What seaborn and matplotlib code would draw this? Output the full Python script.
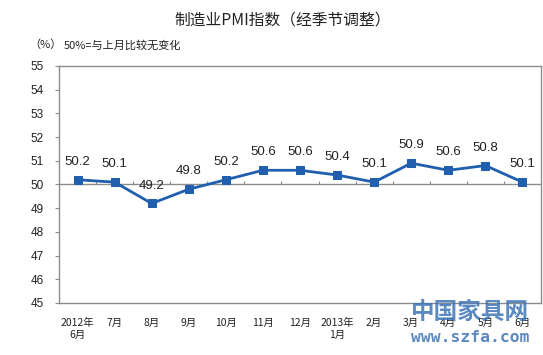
import numpy as np
import pandas as pd
import matplotlib
matplotlib.use("Agg")
import matplotlib.pyplot as plt
import seaborn as sns

# ---- data ----
months = ["2012年\n6月", "7月", "8月", "9月", "10月", "11月", "12月",
          "2013年\n1月", "2月", "3月", "4月", "5月", "6月"]
pmi = [50.2, 50.1, 49.2, 49.8, 50.2, 50.6, 50.6, 50.4, 50.1, 50.9, 50.6, 50.8, 50.1]
y_ticks = [45, 46, 47, 48, 49, 50, 51, 52, 53, 54, 55]

title = "制造业PMI指数（经季节调整）"
unit_label = "（%）"
note_label = "50%=与上月比较无变化"

sns.set_theme(style="white")
plt.rcParams['font.family'] = ['Noto Sans CJK SC', 'DejaVu Sans']

df = pd.DataFrame({"idx": np.arange(len(months)), "pmi": pmi})

W, H = 543, 355
fig = plt.figure(figsize=(W / 100, H / 100), dpi=100)
fig.patch.set_facecolor("white")
left, right, top, bottom = 59, 541, 66, 303
ax = fig.add_axes([left / W, 1 - bottom / H, (right - left) / W, (bottom - top) / H])

line_color = "#1F5FAD"
sns.lineplot(data=df, x="idx", y="pmi", ax=ax, color=line_color, linewidth=2,
             marker="s", markersize=5.5, markeredgecolor=line_color,
             markerfacecolor=line_color)

ax.set_xlim(-0.5, len(months) - 0.5)
ax.set_ylim(min(y_ticks), max(y_ticks))
ax.set_xlabel("")
ax.set_ylabel("")

# frame
for s in ax.spines.values():
    s.set_color("#8C8C8C")
    s.set_linewidth(1)

# y ticks
ax.set_yticks(y_ticks)
ax.set_yticklabels([str(v) for v in y_ticks], fontsize=8.5,
                   family=['Liberation Sans Narrow', 'Liberation Sans'], color="#222222")
ax.tick_params(axis="y", direction="out", length=3, width=0.8, color="#8C8C8C", pad=8, left=True)

# x category labels at bottom
ax.set_xticks(df["idx"])
ax.set_xticklabels(months, fontsize=7.5, color="#222222", linespacing=1.25)
ax.tick_params(axis="x", length=0, pad=11)

# horizontal axis crossing at 50 with upward ticks between categories
ax.axhline(50, color="#8C8C8C", linewidth=1, zorder=1)
bounds = np.arange(len(months) - 1) + 0.5
ax.vlines(bounds, 50, 50 + 0.14, color="#8C8C8C", linewidth=0.8, zorder=1)

# data labels
for i, v in enumerate(pmi):
    ax.annotate(f"{v:.1f}", (i, v), xytext=(0, 8.5), textcoords="offset points",
                ha="center", va="bottom", fontsize=9.5,
                family=['Liberation Sans', 'DejaVu Sans'], color="#222222")

# titles and notes
fig.text(283 / W, 1 - 20 / H, title, ha="center", va="center", fontsize=11.3, color="#222222")
fig.text(45 / W, 1 - 45 / H, unit_label, ha="center", va="center", fontsize=8, color="#222222")
fig.text(64 / W, 1 - 45 / H, note_label, ha="left", va="center", fontsize=8, color="#222222")

# watermark
fig.text(470 / W, 1 - 312 / H, "中国家具网", ha="center", va="center", fontsize=17,
         fontweight="bold", color="#3E74B8", alpha=0.85)
fig.text(470 / W, 1 - 338 / H, "www.szfa.com", ha="center", va="center", fontsize=11.8,
         fontweight="bold", family=['DejaVu Sans Mono'], color="#3E74B8", alpha=0.85)

fig.savefig("out.png", dpi=100, facecolor="white")
